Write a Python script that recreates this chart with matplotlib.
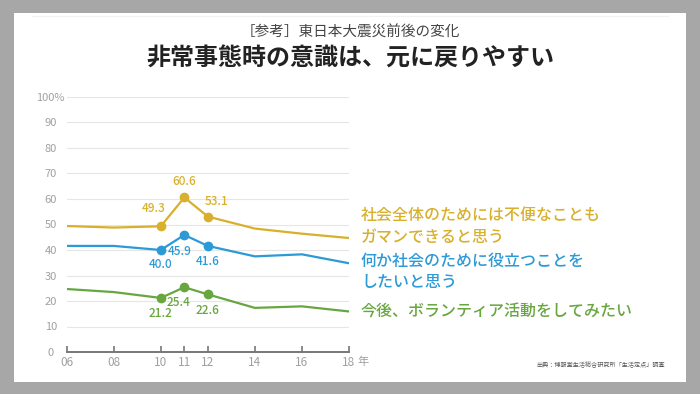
import matplotlib.pyplot as plt
from matplotlib.patches import Rectangle
from matplotlib.lines import Line2D

plt.rcParams['font.family'] = ['Noto Sans CJK JP', 'DejaVu Sans']

years = [2006, 2008, 2010, 2011, 2012, 2014, 2016, 2018]
year_labels = ['06', '08', '10', '11', '12', '14', '16', '18']
gaman = [49.4, 48.8, 49.3, 60.6, 53.1, 48.4, 46.4, 44.7]
yakudachi = [41.6, 41.6, 40.0, 45.9, 41.6, 37.5, 38.3, 34.8]
volunteer = [24.7, 23.5, 21.2, 25.4, 22.6, 17.3, 17.9, 15.9]
yticks = [0, 10, 20, 30, 40, 50, 60, 70, 80, 90, 100]
ytick_labels = ['0', '10', '20', '30', '40', '50', '60', '70', '80', '90', '100%']

YELLOW = '#d8b02c'
BLUE = '#2b9ad6'
GREEN = '#68a640'

# offsets (pixels) for the value labels of 2010, 2011, 2012
series = [
    (gaman, YELLOW, [(-7, 18), (0, 16), (9, 15)]),
    (yakudachi, BLUE, [(0, -15), (-5, -17), (0, -16)]),
    (volunteer, GREEN, [(0, -16), (-6, -15), (0, -16)]),
]

fig = plt.figure(figsize=(7, 3.94), dpi=100)
fig.patch.set_facecolor('#a7a7a7')
fig.patches.append(Rectangle((14 / 700, 12 / 394), 672 / 700, 369 / 394,
                             transform=fig.transFigure, facecolor='white',
                             edgecolor='none', zorder=-10))
fig.lines.append(Line2D([32 / 700, 668 / 700], [1 - 16 / 394, 1 - 16 / 394],
                        transform=fig.transFigure, color='#f2f2f2', lw=0.8,
                        zorder=-5))

ax = fig.add_axes([66.7 / 700, 42 / 394, 282.3 / 700, 255 / 394])
ax.set_facecolor('none')

for vals, col, offs in series:
    ax.plot(years, vals, color=col, lw=1.6, zorder=3, solid_joinstyle='round')
    ax.plot(years[2:5], vals[2:5], 'o', color=col, ms=6, zorder=4)
    for k, (dx, dy) in zip(range(2, 5), offs):
        ax.annotate(f'{vals[k]:.1f}', (years[k], vals[k]), xytext=(dx, dy),
                    textcoords='offset pixels', ha='center', va='center',
                    color=col, fontsize=8.5, fontweight='medium')

ax.set_xlim(2006, 2018)
ax.set_ylim(0, 100)
ax.set_yticks(yticks)
ax.set_yticklabels(ytick_labels, ha='center')
ax.set_xticks(years)
ax.set_xticklabels(year_labels)
ax.grid(axis='y', color='#e6e6e6', lw=0.8)
ax.set_axisbelow(True)
for s in ['top', 'right', 'left']:
    ax.spines[s].set_visible(False)
ax.spines['bottom'].set_color('#777777')
ax.spines['bottom'].set_linewidth(1.4)
ax.tick_params(axis='y', length=0, pad=11.5, labelsize=8, labelcolor='#a0a0a0')
ax.tick_params(axis='x', direction='in', length=4, width=1.2, color='#777777',
               pad=3, labelsize=8.5, labelcolor='#a0a0a0')
fig.text(357 / 700, 1 - 362 / 394, '年', ha='left', va='center',
         fontsize=8, color='#a0a0a0')

fig.text(0.5, 1 - 33 / 394, '［参考］東日本大震災前後の変化', ha='center', va='center',
         fontsize=10.5, color='#444444')
fig.text(0.5, 1 - 59 / 394, '非常事態時の意識は、元に戻りやすい', ha='center', va='center',
         fontsize=17.3, fontweight='bold', color='#222222')

fig.text(361 / 700, 1 - 227 / 394, '社会全体のためには不便なことも\nガマンできると思う',
         ha='left', va='center', fontsize=11.5, color=YELLOW, linespacing=1.3,
         fontweight='medium')
fig.text(361 / 700, 1 - 272 / 394, '何か社会のために役立つことを\nしたいと思う',
         ha='left', va='center', fontsize=11.5, color=BLUE, linespacing=1.3,
         fontweight='medium')
fig.text(361 / 700, 1 - 312 / 394, '今後、ボランティア活動をしてみたい',
         ha='left', va='center', fontsize=11.5, color=GREEN, fontweight='medium')

fig.text(665 / 700, 1 - 365 / 394, '出典：博報堂生活総合研究所「生活定点」調査',
         ha='right', va='center', fontsize=4.4, color='#555555')

fig.savefig('out.png', dpi=100, facecolor=fig.get_facecolor())
